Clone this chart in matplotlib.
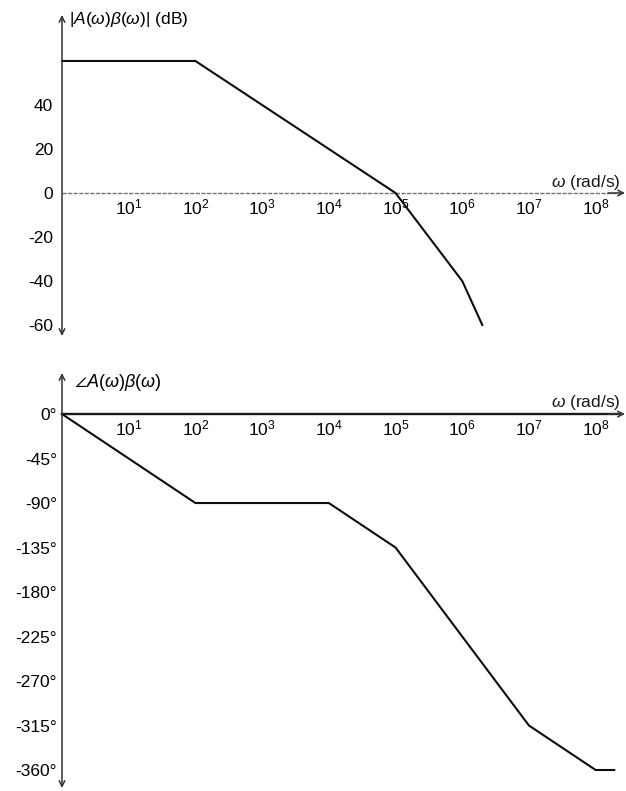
import matplotlib
matplotlib.use("Agg")
import matplotlib.pyplot as plt
import numpy as np

plt.rcParams['font.family'] = ['Liberation Sans', 'DejaVu Sans']
plt.rcParams['mathtext.fontset'] = 'custom'
plt.rcParams['mathtext.rm'] = 'Liberation Sans'
plt.rcParams['mathtext.it'] = 'Liberation Sans:italic'
plt.rcParams['mathtext.default'] = 'regular'

# asymptotic Bode plot of the loop gain A(w)B(w)
mag_freq = [1, 1e2, 1e5, 1e6, 2e6]
mag_db = [60, 60, 0, -40, -60]
mag_ticks = [40, 20, 0, -20, -40, -60]

phase_freq = [1, 1e2, 1e4, 1e5, 1e7, 1e8, 1.9e8]
phase_deg = [0, -90, -90, -135, -315, -360, -360]
phase_ticks = [0, -45, -90, -135, -180, -225, -270, -315, -360]

decades = [1, 2, 3, 4, 5, 6, 7, 8]

W, H = 626, 791
fig = plt.figure(figsize=(W / 100, H / 100), dpi=100)

left = 62 / W
width = 1 - left - 1 / W
ax1 = fig.add_axes([left, 1 - 336 / H, width, 321 / H])
ax2 = fig.add_axes([left, 1 - 788 / H, width, 415 / H])


def setup(ax, ylo, yhi, yticks, ylabels, ypad, zero_style):
    ax.set_xscale('log')
    ax.set_xlim(1, 10 ** 8.44)
    ax.set_ylim(ylo, yhi)
    for s in ax.spines.values():
        s.set_visible(False)
    ax.spines['bottom'].set_position(('data', 0))
    ax.set_xticks([10.0 ** d for d in decades])
    ax.set_xticklabels([r'$10^{%d}$' % d for d in decades], fontsize=12.5)
    ax.xaxis.set_minor_locator(plt.NullLocator())
    ax.set_yticks(yticks)
    ax.set_yticklabels(ylabels, fontsize=12.5)
    ax.tick_params(axis='x', length=0, pad=3)
    ax.tick_params(axis='y', length=0, pad=ypad)
    ax.patch.set_visible(False)
    # vertical axis with arrows at both ends
    ax.annotate('', xy=(0, 1), xytext=(0, 0), xycoords='axes fraction',
                arrowprops=dict(arrowstyle='<->', lw=1.1, color='0.2',
                                shrinkA=0, shrinkB=0, mutation_scale=10))
    # horizontal axis at zero with arrow head
    tr = ax.get_yaxis_transform()
    ax.plot([0, 0.99], [0, 0], transform=tr, clip_on=False, **zero_style)
    ax.annotate('', xy=(1, 0), xytext=(0.97, 0), xycoords=tr,
                arrowprops=dict(arrowstyle='->', lw=1.1, color='0.2',
                                shrinkA=0, shrinkB=0, mutation_scale=10))
    ax.text(0.992, 0.004 * (yhi - ylo), r'$\mathit{\omega}$ (rad/s)', transform=tr,
            ha='right', va='bottom', fontsize=12.5, color='0.1')


setup(ax1, -65, 80.9, mag_ticks, [str(v) for v in mag_ticks], 6.5,
      dict(color='0.45', lw=1.0, ls=(0, (3, 1))))
setup(ax2, -378.2, 41.5, phase_ticks, ['%d°' % v for v in phase_ticks], 3.5,
      dict(color='0.1', lw=1.7))

ax1.plot(mag_freq, mag_db, color='0.05', lw=1.5, clip_on=False)
ax2.plot(phase_freq, phase_deg, color='0.05', lw=1.5, clip_on=False)

ax1.text(0.012, 0.985, r'|$\mathit{A}$($\mathit{\omega}$)$\mathit{\beta}$($\mathit{\omega}$)| (dB)',
         transform=ax1.transAxes, ha='left', va='center', fontsize=12.5)
ax2.text(0.022, 0.976, r'$\angle\mathit{A}$($\mathit{\omega}$)$\mathit{\beta}$($\mathit{\omega}$)',
         transform=ax2.transAxes, ha='left', va='center', fontsize=13)

fig.savefig('out.png', dpi=100)
